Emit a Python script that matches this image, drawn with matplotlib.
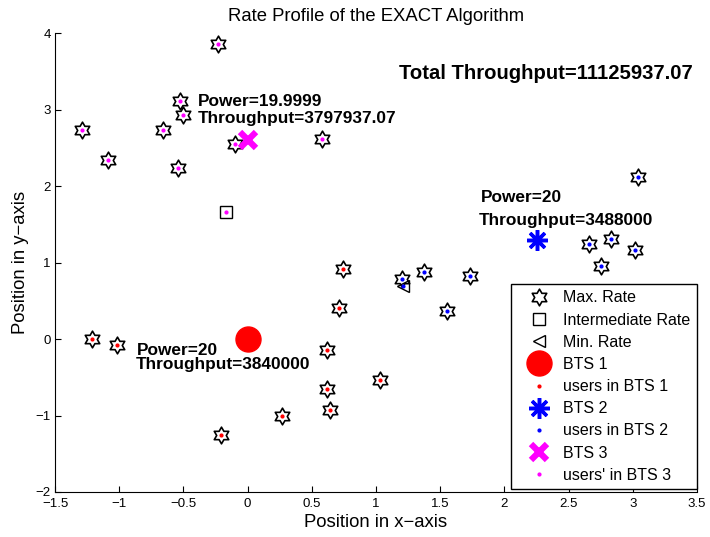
import numpy as np
import matplotlib.pyplot as plt
from matplotlib.path import Path
from matplotlib.ticker import FuncFormatter

plt.rcParams['font.family'] = ['Liberation Sans', 'DejaVu Sans']

# base stations
bts_x = [0.0, 2.25, 0.0]
bts_y = [0.0, 1.30, 2.60]
bts_power = ['20', '20', '19.9999']
bts_thr = ['3840000', '3488000', '3797937.07']
total_thr = '11125937.07'

# users of each BTS, rate class: max / mid / min
u1_x = [0.74, 0.71, 0.62, 0.62, 0.64, 1.03, -1.21, -1.02, -0.21, 0.27]
u1_y = [0.92, 0.40, -0.14, -0.65, -0.93, -0.54, 0.00, -0.08, -1.26, -1.01]
u1_rate = ['max'] * 10

u2_x = [3.04, 2.66, 2.83, 3.02, 2.75, 1.20, 1.21, 1.37, 1.73, 1.55]
u2_y = [2.12, 1.24, 1.31, 1.16, 0.96, 0.78, 0.69, 0.87, 0.82, 0.36]
u2_rate = ['max', 'max', 'max', 'max', 'max', 'max', 'min', 'max', 'max', 'max']

u3_x = [-0.23, -0.53, -0.50, -1.29, -0.66, -1.09, -0.54, -0.10, 0.58, -0.17]
u3_y = [3.86, 3.11, 2.93, 2.73, 2.73, 2.34, 2.24, 2.55, 2.62, 1.66]
u3_rate = ['max', 'max', 'max', 'max', 'max', 'max', 'max', 'max', 'max', 'mid']

# hexagram marker (MATLAB 'h')
ang = np.pi / 2 + np.arange(12) * np.pi / 6
rad = np.where(np.arange(12) % 2 == 0, 1.0, 1 / np.sqrt(3))
verts = np.column_stack([rad * np.cos(ang), rad * np.sin(ang)])
hexagram = Path(np.vstack([verts, verts[:1]]), closed=True)

all_x = u1_x + u2_x + u3_x
all_y = u1_y + u2_y + u3_y
all_rate = u1_rate + u2_rate + u3_rate

def pick(rate):
    xs = [x for x, r in zip(all_x, all_rate) if r == rate]
    ys = [y for y, r in zip(all_y, all_rate) if r == rate]
    return xs, ys

fig = plt.figure(figsize=(7.1, 5.37), dpi=100)
ax = fig.add_axes([0.0775, 0.0838, 0.9042, 0.8547])

mx, my = pick('max')
ax.plot(mx, my, linestyle='none', marker=hexagram, ms=12, mfc='none', mec='black', mew=1.2, label='Max. Rate')
ix, iy = pick('mid')
ax.plot(ix, iy, linestyle='none', marker='s', ms=8, mfc='none', mec='black', mew=1.0, label='Intermediate Rate')
nx, ny = pick('min')
ax.plot(nx, ny, linestyle='none', marker='<', ms=9, mfc='none', mec='black', mew=1.0, label='Min. Rate')

ax.plot(bts_x[0], bts_y[0], linestyle='none', marker='o', ms=18, color='red', label='BTS 1')
ax.plot(u1_x, u1_y, linestyle='none', marker='.', ms=4, color='red', label='users in BTS 1')
ax.plot(bts_x[1], bts_y[1], linestyle='none', marker=(8, 2, 0), ms=15, mew=2.5, color='blue', label='BTS 2')
ax.plot(u2_x, u2_y, linestyle='none', marker='.', ms=4, color='blue', label='users in BTS 2')
ax.plot(bts_x[2], bts_y[2], linestyle='none', marker='x', ms=11, mew=4.5, color='magenta', label='BTS 3')
ax.plot(u3_x, u3_y, linestyle='none', marker='.', ms=4, color='magenta', label="users' in BTS 3")

# annotations
fs = 12.4
ax.text(-0.86, -0.155, 'Power=' + bts_power[0], fontsize=fs, fontweight='bold', va='center')
ax.text(-0.87, -0.335, 'Throughput=' + bts_thr[0], fontsize=fs, fontweight='bold', va='center')
ax.text(1.82, 1.85, 'Power=' + bts_power[1], fontsize=fs, fontweight='bold', va='center')
ax.text(1.80, 1.55, 'Throughput=' + bts_thr[1], fontsize=fs, fontweight='bold', va='center')
ax.text(-0.39, 3.10, 'Power=' + bts_power[2], fontsize=fs, fontweight='bold', va='center')
ax.text(-0.39, 2.88, 'Throughput=' + bts_thr[2], fontsize=fs, fontweight='bold', va='center')
ax.text(1.18, 3.47, 'Total Throughput=' + total_thr, fontsize=14.6, fontweight='bold', va='center')

ax.set_xlim(-1.5, 3.5)
ax.set_ylim(-2, 4)
ax.set_xticks(np.arange(-1.5, 3.51, 0.5))
ax.set_yticks(np.arange(-2, 4.1, 1))
fmt = FuncFormatter(lambda v, p: ('%g' % v).replace('-', '\u2212'))
ax.xaxis.set_major_formatter(fmt)
ax.yaxis.set_major_formatter(fmt)
ax.tick_params(direction='in', length=4, labelsize=9.5)
ax.tick_params(axis='x', pad=4.5)
ax.tick_params(axis='y', pad=3)
ax.spines['top'].set_visible(False)
ax.spines['right'].set_visible(False)

ax.set_title('Rate Profile of the EXACT Algorithm', fontsize=13.3, pad=9)
ax.set_xlabel('Position in x\u2212axis', fontsize=13.3, labelpad=3)
ax.set_ylabel('Position in y\u2212axis', fontsize=13.3, labelpad=5)

leg = ax.legend(loc='lower right', bbox_to_anchor=(1.0, 0.006), borderaxespad=0,
                fontsize=11.5, fancybox=False, edgecolor='black', framealpha=1,
                handlelength=2.7, handletextpad=0.2, labelspacing=0.45, borderpad=0.4,
                numpoints=1)
leg.get_frame().set_linewidth(1.0)

fig.savefig('out.png', dpi=100)
